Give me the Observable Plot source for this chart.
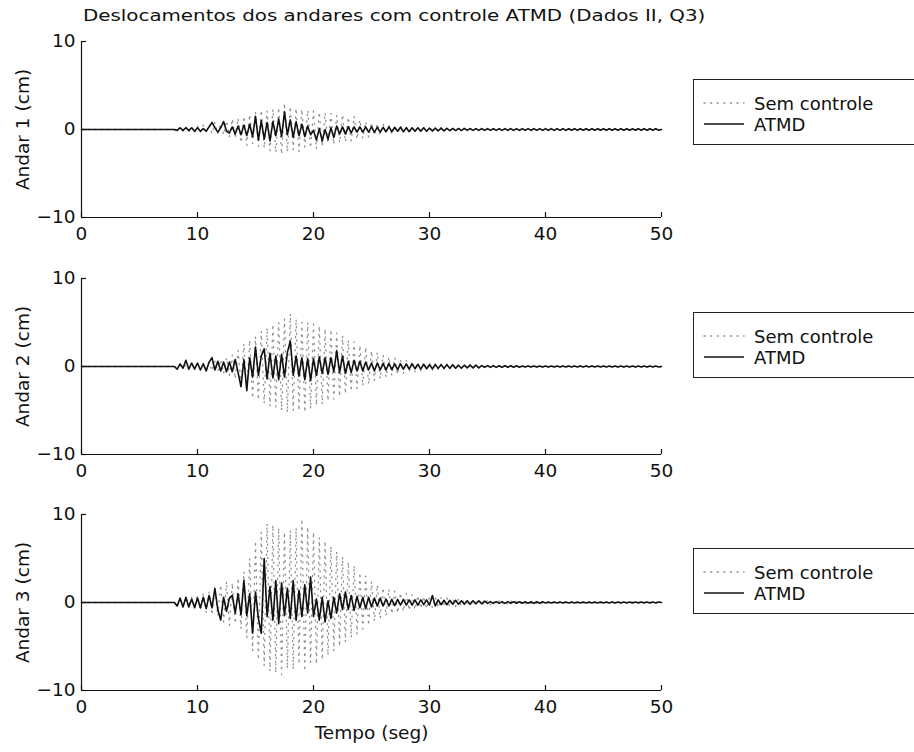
<!DOCTYPE html>
<html lang="pt">
<head>
<meta charset="utf-8">
<title>Deslocamentos dos andares com controle ATMD</title>
<script src="https://cdn.jsdelivr.net/npm/d3@7"></script>
<script src="https://cdn.jsdelivr.net/npm/@observablehq/plot@0.6"></script>
<style>
  html, body { margin: 0; background: #fff; }
  #fig { position: relative; width: 914px; height: 752px; overflow: hidden;
         font-family: "DejaVu Sans", sans-serif; color: #111; }
  #fig > svg { position: absolute; left: 0; }
  .titulo { position: absolute; left: 83px; top: 6px; font-size: 16px; white-space: nowrap;
            transform: scaleX(1.24); transform-origin: left top; }
  .legenda { position: absolute; left: 693px; width: 260px; height: 66px;
             border: 1.3px solid #222; background: #fff; box-sizing: border-box; }
  .legenda .item { position: absolute; left: 9px; height: 20px; display: flex; align-items: center;
                   font-size: 18px; white-space: nowrap; }
  .legenda .item svg { display: block; margin-right: 9px; }
</style>
</head>
<body>
<div id="fig"></div>
<script>
// Amostragem dos registros: primeira amostra em t0 (s), espaçamento dt (s).
// Antes de t0 a estrutura está em repouso (deslocamento nulo).
const t0 = 8;
const dt = 0.25;

const tempoTicks = [0, 10, 20, 30, 40, 50];
const deslTicks = [-10, 0, 10];
const series = ["Sem controle", "ATMD"];

// Andar 1 — sem controle (cm), uma linha por segundo a partir de t = 8 s
const semControle1 = [
  0, -.2, .3, -.2,   .3, -.3, .3, -.4,   .4, -.3, .5, -.4,   .6, -.5, .8, -.5,
  .7, -.6, 1, -.8,   1.2, -1, 1.3, -1.5,   1.5, -1.8, 1.7, -1.6,   2, -1.9, 2.2, -2.1,
  2.1, -2.4, 2.3, -2.6,   2.5, -2.8, 3, -2.5,   2.6, -2.3, 2.4, -2.5,   2.3, -2, 2.2, -2.1,
  2.1, -2.2, 2, -1.9,   1.9, -1.6, 1.8, -1.7,   1.6, -1.5, 1.7, -1.4,   1.4, -1.3, 1.5, -1.1,
  1.1, -1, .9, -.9,   .8, -.7, .7, -.6,   .6, -.5, .5, -.5,   .4, -.4, .4, -.3,
  .3, -.3, .3, -.3,   .3, -.2, .2, -.2,   .2, -.2, .2, -.2,   .2, -.2, .2, -.15,
  .15, -.15, .15, -.1,   .1, -.1, .1, -.1,   .1, -.08, .1, -.08,   .08, -.06, .08, -.06,
  .06, -.06, .06, -.06,   .06, -.06, .06, -.06,   .06, -.06, .06, -.06,   .06, -.06, .06, -.06,
  .06, -.06, .06, -.06,   .06, -.06, .06, -.06,   .06, -.06, .06, -.06,   .06, -.06, .06, -.06,
  .06, -.06, .06, -.06,   .06, -.06, .06, -.06,   .06, -.06, .06, -.06,   .06, -.06, .06, -.06,
  .06, -.06, .06, -.06,   .06, -.06, .06, -.06,   0
];

// Andar 1 — com ATMD (cm)
const atmd1 = [
  0, -.1, .2, -.1,   .2, -.1, .2, -.2,   .2, -.2, .1, -.2,   .3, .8, .2, -.3,
  .2, .9, -.2, -.4,   .3, -.5, .4, -.6,   .5, -.7, .6, -.8,   1.5, -1.2, 1, -1.1,
  .8, -1.3, .9, -.7,   1.2, -.8, 2, -.6,   1.1, -.9, .9, -.7,   .6, -.8, .4, -.6,
  -.1, -1.2, .1, -1.3,   0, -1.1, .2, -.9,   .4, -.5, .3, -.5,   .3, -.4, .3, -.3,
  .3, -.3, .3, -.3,   .3, -.3, .25, -.3,   .25, -.25, .3, -.25,   .25, -.2, .25, -.25,
  .2, -.25, .2, -.2,   .2, -.2, .2, -.2,   .15, -.15, .15, -.15,   .15, -.15, .12, -.12,
  .12, -.12, .12, -.12,   .12, -.1, .1, -.1,   .1, -.1, .1, -.1,   .1, -.1, .1, -.1,
  .1, -.1, .1, -.1,   .1, -.1, .1, -.1,   .1, -.1, .1, -.1,   .1, -.1, .1, -.1,
  .1, -.1, .1, -.1,   .1, -.1, .1, -.1,   .08, -.08, .08, -.08,   .08, -.08, .08, -.08,
  .08, -.08, .08, -.08,   .08, -.08, .08, -.08,   .08, -.08, .08, -.08,   .08, -.08, .08, -.08,
  .08, -.08, .08, -.08,   .08, -.08, .08, -.08,   0
];

// Andar 2 — sem controle (cm)
const semControle2 = [
  0, -.1, .15, -.15,   .2, -.2, .2, -.2,   .3, -.3, .35, -.3,   .5, -.5, .6, -.6,
  .8, -.8, 1, -1,   1.3, -1.4, 1.8, -2,   2.6, -3, 3, -3.6,   3.4, -3.8, 4, -4.2,
  4.4, -4.5, 4.8, -4.6,   5, -5, 5.4, -5.2,   6, -5, 5.4, -5,   5, -5.2, 5, -4.8,
  4.8, -4.4, 4.6, -4.3,   4.3, -3.9, 4.2, -3.7,   3.8, -3.4, 3.5, -3.1,   3, -2.8, 2.8, -2.5,
  2.4, -2.2, 2.2, -2,   1.8, -1.6, 1.6, -1.4,   1.3, -1.2, 1.1, -1,   1, -.9, .8, -.8,
  .7, -.6, .6, -.6,   .5, -.5, .5, -.4,   .4, -.4, .35, -.35,   .3, -.3, .3, -.3,
  .25, -.25, .25, -.2,   .2, -.2, .2, -.2,   .2, -.15, .15, -.15,   .1, -.1, .1, -.1,
  .08, -.08, .08, -.08,   .06, -.06, .06, -.06,   .06, -.06, .06, -.06,   .06, -.06, .06, -.06,
  .06, -.06, .06, -.06,   .06, -.06, .06, -.06,   .06, -.06, .06, -.06,   .06, -.06, .06, -.06,
  .06, -.06, .06, -.06,   .06, -.06, .06, -.06,   .06, -.06, .06, -.06,   .06, -.06, .06, -.06,
  .06, -.06, .06, -.06,   .06, -.06, .06, -.06,   0
];

// Andar 2 — com ATMD (cm)
const atmd2 = [
  0, -.3, .3, -.2,   .7, -.3, .4, -.3,   .4, -.4, .3, -.5,   .5, 1, -.4, .6,
  -.5, .5, -.6, .5,   -.6, .8, -.7, -2.3,   .8, -2.7, 1, -1.2,   2.2, -1, 1.2, 2,
  -1.4, 1.5, -1.3, 1.2,   -1.5, 1.4, -1.2, 1.6,   2.9, -1, 1.2, -1.1,   1, -1.5, .9, -1.6,
  .9, -1, 1.1, -.8,   1, -.9, 1, -.6,   1.8, -.7, 1.2, -.8,   .6, -.7, .7, -.5,
  .6, -.5, .5, -.4,   .4, -.5, .4, -.4,   .35, -.4, .35, -.35,   .3, -.35, .3, -.3,
  .3, -.3, .3, -.25,   .25, -.3, .25, -.25,   .2, -.25, .2, -.2,   .2, -.2, .2, -.2,
  .2, -.2, .15, -.2,   .15, -.15, .15, -.15,   .15, -.15, .1, -.1,   .1, -.1, .1, -.1,
  .08, -.08, .08, -.08,   .08, -.08, .08, -.08,   .06, -.06, .06, -.06,   .06, -.06, .06, -.06,
  .06, -.06, .06, -.06,   .06, -.06, .06, -.06,   .06, -.06, .06, -.06,   .06, -.06, .06, -.06,
  .06, -.06, .06, -.06,   .06, -.06, .06, -.06,   .06, -.06, .06, -.06,   .06, -.06, .06, -.06,
  .06, -.06, .06, -.06,   .06, -.06, .06, -.06,   0
];

// Andar 3 — sem controle (cm)
const semControle3 = [
  0, -.3, .4, -.4,   .5, -.5, .6, -.5,   .8, -.9, 1, -1.1,   1.2, -1.4, 1.6, -1.5,
  2, -2.2, 2.4, -2.6,   2.2, -2.4, 2.8, -3,   3.5, -4, 5, -5.5,   7, -6.5, 8, -7.2,
  9, -7.8, 8.8, -8,   8.5, -8.2, 8, -7.5,   8.2, -7.6, 8.5, -7,   9.5, -7.8, 8.6, -6.8,
  8, -7, 7.4, -6.5,   7, -6, 6.4, -5.5,   5.8, -5, 5.2, -4.5,   4.6, -4, 4.2, -3.6,
  3.4, -3, 3, -2.6,   2.4, -2.1, 2, -1.8,   1.7, -1.5, 1.5, -1.3,   1.3, -1.2, 1.1, -1,
  1, -.9, .9, -.8,   .8, -.7, .7, -.7,   .7, -.6, .6, -.6,   .55, -.5, .5, -.5,
  .45, -.45, .4, -.4,   .4, -.35, .35, -.35,   .3, -.3, .3, -.3,   .25, -.25, .2, -.2,
  .2, -.2, .2, -.2,   .2, -.15, .15, -.15,   .15, -.15, .12, -.12,   .12, -.12, .1, -.1,
  .1, -.1, .1, -.1,   .1, -.08, .08, -.08,   .08, -.08, .08, -.08,   .08, -.06, .06, -.06,
  .06, -.06, .06, -.06,   .06, -.06, .06, -.06,   .06, -.06, .06, -.06,   .06, -.06, .06, -.06,
  .06, -.06, .06, -.06,   .06, -.06, .06, -.06,   0
];

// Andar 3 — com ATMD (cm)
const atmd3 = [
  0, -.4, .5, -.5,   .6, -.5, .4, -.6,   .5, -.6, .6, -.7,   .8, -.6, 1.6, -.8,
  -2, .6, -1, .5,   .8, -1.2, 1, -1.4,   2.5, -1.5, 1, -3.5,   1.2, -1.8, -3.5, 5,
  -1.6, 1.8, -2, 2.5,   -2.4, 2.2, -1.5, 1.6,   -1.8, 2.5, -2, 1.4,   -1.6, 2, -1.2, 2.9,
  -1.6, .4, -2, .6,   -2.2, .2, -1.8, .6,   -1.2, 1, -.8, 1.2,   -.8, .8, -.9, .7,
  -.6, .6, -.7, .6,   -.5, .5, -.4, .5,   -.4, .4, -.4, .35,   -.35, .35, -.3, .35,
  -.3, .3, -.3, .3,   -.3, .3, -.25, .3,   -.3, .8, -.4, .3,   -.25, .25, -.25, .25,
  -.2, .25, -.2, .2,   -.2, .2, -.2, .2,   -.15, .2, -.15, .15,   -.1, .1, -.1, .1,
  -.1, .1, -.1, .1,   -.08, .08, -.08, .08,   -.08, .08, -.08, .08,   -.08, .08, -.08, .08,
  -.06, .06, -.06, .06,   -.06, .06, -.06, .06,   -.06, .06, -.06, .06,   -.06, .06, -.06, .06,
  -.06, .06, -.06, .06,   -.06, .06, -.06, .06,   -.06, .06, -.06, .06,   -.06, .06, -.06, .06,
  -.06, .06, -.06, .06,   -.06, .06, -.06, .06,   0
];

const andares = [
  {andar: 1, sem: semControle1, atmd: atmd1},
  {andar: 2, sem: semControle2, atmd: atmd2},
  {andar: 3, sem: semControle3, atmd: atmd3}
];

function serie(valores) {
  return [{t: 0, v: 0}, ...valores.map((v, i) => ({t: t0 + i * dt, v}))];
}

const fig = document.getElementById("fig");
const W = 914, mL = 81, mR = 253, innerH = 176;
const innerW = W - mL - mR;
const frameTops = [41, 278, 514];
const legendTops = [79, 312, 548];

const titulo = document.createElement("div");
titulo.className = "titulo";
titulo.textContent = "Deslocamentos dos andares com controle ATMD (Dados II, Q3)";
fig.appendChild(titulo);

const pontilhado = {stroke: "#8e8e8e", strokeWidth: 1.3, strokeDasharray: "1.1,5.5", strokeLinecap: "round"};

andares.forEach((a, k) => {
  const ultimo = k === andares.length - 1;
  const mT = 20, mB = ultimo ? 62 : 40;
  const svg = Plot.plot({
    width: W,
    height: mT + innerH + mB,
    marginLeft: mL, marginRight: mR, marginTop: mT, marginBottom: mB,
    x: {domain: [0, 50]},
    y: {domain: [-10, 10]},
    style: {fontFamily: "DejaVu Sans, sans-serif", fontSize: "18.5px", color: "#111",
            background: "transparent", overflow: "visible"},
    marks: [
      Plot.line(serie(a.sem), {x: "t", y: "v", ...pontilhado}),
      Plot.line(serie(a.atmd), {x: "t", y: "v", stroke: "#111", strokeWidth: 1.6}),
      Plot.ruleX([0], {stroke: "#111", strokeWidth: 1.2}),
      Plot.ruleY([-10], {stroke: "#111", strokeWidth: 1.2}),
      Plot.tickY(deslTicks, {y: d => d, stroke: "#111", strokeWidth: 1.2, insetRight: innerW - 5}),
      Plot.tickX(tempoTicks, {x: d => d, stroke: "#111", strokeWidth: 1.2, insetTop: innerH - 5}),
      Plot.axisY(deslTicks, {tickSize: 0, tickPadding: 6, label: `Andar ${a.andar} (cm)`,
        labelAnchor: "center", labelArrow: "none", labelOffset: 66}),
      Plot.axisX(tempoTicks, {tickSize: 0, tickPadding: 9,
        label: ultimo ? "Tempo (seg)" : null, labelAnchor: "center", labelArrow: "none",
        labelOffset: 48})
    ]
  });
  svg.style.top = (frameTops[k] - mT) + "px";
  fig.appendChild(svg);

  // legenda de cada painel
  const leg = document.createElement("div");
  leg.className = "legenda";
  leg.style.top = legendTops[k] + "px";
  series.forEach((nome, j) => {
    const item = document.createElement("div");
    item.className = "item";
    item.style.top = (13 + j * 21) + "px";
    const traco = j === 0
      ? `stroke="${pontilhado.stroke}" stroke-dasharray="${pontilhado.strokeDasharray}" stroke-linecap="round"`
      : 'stroke="#111"';
    item.innerHTML = `<svg width="42" height="4"><line x1="1" x2="41" y1="2" y2="2" stroke-width="1.4" ${traco}/></svg><span>${nome}</span>`;
    leg.appendChild(item);
  });
  fig.appendChild(leg);
});
</script>
</body>
</html>
